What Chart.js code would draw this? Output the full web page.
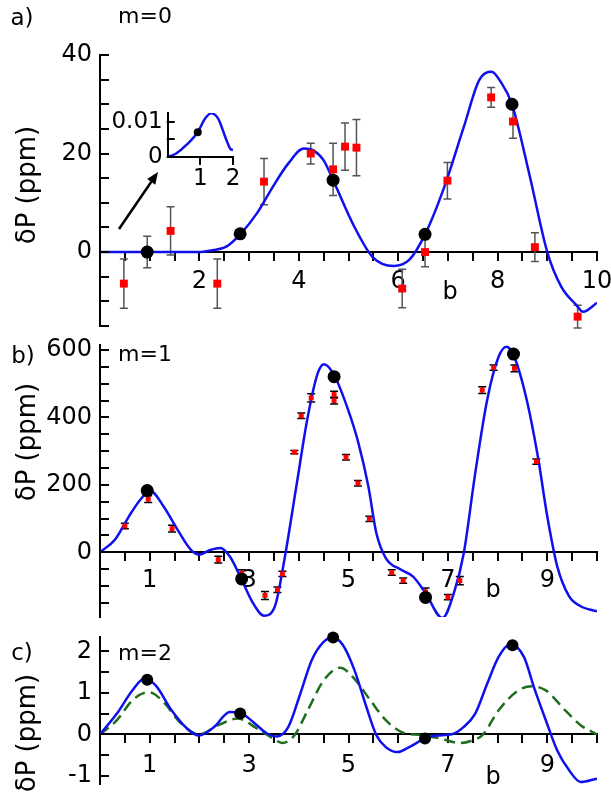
<!DOCTYPE html>
<html>
<head>
<meta charset="utf-8">
<script src="https://cdn.jsdelivr.net/npm/chart.js@4.4.0/dist/chart.umd.min.js"></script>
<style>
html, body { margin: 0; padding: 0; background: #fff; }
#wrap { position: relative; width: 611px; height: 792px; overflow: hidden; font-family: "DejaVu Sans", sans-serif; color: #000; }
canvas { position: absolute; left: 0; top: 0; }
.lbl { position: absolute; white-space: nowrap; line-height: 1; transform: translate(-50%, -50%); }
.ylab { position: absolute; white-space: nowrap; line-height: 1; font-size: 26px; transform: translate(-50%, -50%) rotate(-90deg); }
</style>
</head>
<body>
<div id="wrap">
  <canvas id="chartA" width="611" height="792"></canvas>
  <canvas id="chartInset" width="611" height="792"></canvas>
  <canvas id="chartB" width="611" height="792"></canvas>
  <canvas id="chartC" width="611" height="792"></canvas>

  <div class="lbl" style="left:22px;top:17px;font-size:23px">a)</div>
  <div class="lbl" style="left:145px;top:16px;font-size:22px">m=0</div>
  <div class="ylab" style="left:26px;top:185px">δP (ppm)</div>
  <div class="lbl" style="left:450px;top:291px;font-size:24px">b</div>

  <div class="lbl" style="left:23px;top:355px;font-size:23px">b)</div>
  <div class="lbl" style="left:145px;top:354px;font-size:22px">m=1</div>
  <div class="ylab" style="left:26px;top:442px">δP (ppm)</div>
  <div class="lbl" style="left:493px;top:589px;font-size:24px">b</div>

  <div class="lbl" style="left:22px;top:652px;font-size:23px">c)</div>
  <div class="lbl" style="left:145px;top:653px;font-size:22px">m=2</div>
  <div class="ylab" style="left:26px;top:733px">δP (ppm)</div>
  <div class="lbl" style="left:493px;top:776px;font-size:24px">b</div>

  <svg style="position:absolute;left:0;top:0" width="611" height="792">
    <line x1="119" y1="229" x2="151.5" y2="181.5" stroke="#000" stroke-width="2.5"/>
    <polygon points="158,172 155.3,184.7 147.1,179.1" fill="#000"/>
  </svg>
</div>

<script>
// ---- panel a) m=0 ----
const aCurveB = [0, 0.5, 1, 1.5, 2.0, 2.22, 2.54, 2.82, 3.16, 3.48, 3.79, 4.10, 4.30, 4.50, 4.69, 5.12, 5.48, 5.91, 6.22, 6.54, 6.93, 7.32, 7.63, 7.88, 8.06, 8.29, 8.65, 9.0, 9.28, 9.59, 9.72, 10.0];
const aCurveP = [0, 0, 0, 0, 0, 0.3, 1.1, 3.6, 7.9, 13.3, 18.0, 21.0, 20.6, 18.6, 14.6, 5.1, -0.95, -2.8, -1.6, 3.6, 13.3, 25.4, 34.9, 36.6, 34.6, 30.0, 15.3, 0, -7.0, -10.8, -12.1, -10.3];
const aDotB = [0.95, 2.82, 4.69, 6.54, 8.29];
const aDotP = [0, 3.7, 14.6, 3.6, 30.0];
const aRedB = [0.48, 0.95, 1.42, 2.36, 3.30, 4.24, 4.69, 4.93, 5.16, 6.08, 6.54, 6.99, 7.87, 8.31, 8.75, 9.61];
const aRedP = [-6.4, 0, 4.3, -6.4, 14.3, 20.0, 16.8, 21.4, 21.2, -7.4, 0, 14.5, 31.4, 26.5, 1.0, -13.1];
const aRedErr = [5, 3.2, 4.9, 5, 4.7, 2.1, 5.3, 4.8, 5.7, 3.9, 3, 3.7, 2, 3.4, 2.9, 2.3];
const aXTicks = [0.5, 1, 1.5, 2, 2.5, 3, 3.5, 4, 4.5, 5, 5.5, 6, 6.5, 7, 7.5, 8, 8.5, 9, 9.5, 10];
const aXLabels = [2, 4, 6, 8, 10];
const aYTicks = [-15, -10, -5, 0, 5, 10, 15, 20, 25, 30, 35, 40];
const aYLabels = [0, 20, 40];

// inset of panel a
const insetB = [0, 0.12, 0.27, 0.58, 0.92, 1.14, 1.33, 1.55, 1.76, 1.91, 2.0];
const insetP = [0, 0.0003, 0.001, 0.0035, 0.0071, 0.011, 0.0126, 0.011, 0.0058, 0.0024, 0.0019];
const insetDotB = [0.92];
const insetDotP = [0.0071];
const insetXTicks = [1, 2];
const insetYTicks = [0, 0.005, 0.01];
const insetYLabels = [0, 0.01];

// ---- panel b) m=1 ----
const bCurveB = [0, 0.30, 0.58, 0.81, 1.01, 1.28, 1.56, 1.83, 1.99, 2.22, 2.42, 2.61, 2.85, 3.08, 3.30, 3.52, 3.71, 3.95, 4.18, 4.38, 4.51, 4.71, 4.97, 5.20, 5.40, 5.56, 5.75, 6.06, 6.30, 6.55, 6.89, 7.12, 7.32, 7.55, 7.79, 8.02, 8.18, 8.32, 8.57, 8.81, 9.0, 9.2, 9.44, 9.67, 10];
const bCurveP = [0, 37, 106, 156, 182, 136, 67, 7, -7, 7, 13, -12, -81, -151, -188, -160, -22, 195, 402, 531, 558, 526, 432, 324, 195, 57, -17, -52, -72, -121, -195, -121, -2, 235, 452, 580, 610, 585, 462, 284, 106, -42, -131, -160, -175];
const bDotB = [0.95, 2.85, 4.71, 6.55, 8.32];
const bDotP = [183, -79, 521, -134, 588];
const bRedB = [0.50, 0.97, 1.45, 2.38, 2.85, 3.32, 3.57, 3.67, 3.91, 4.05, 4.25, 4.71, 4.71, 4.95, 5.19, 5.42, 5.87, 6.10, 6.55, 7.00, 7.24, 7.69, 7.92, 8.34, 8.78];
const bRedP = [78, 158, 70, -22, -62, -128, -111, -64, 297, 405, 458, 468, 450, 282, 205, 99, -60, -84, -118, -133, -84, 481, 548, 546, 269];
const bRedErr = [8, 10, 10, 10, 10, 12, 8, 8, 5, 8, 12, 10, 10, 8, 8, 8, 8, 8, 12, 8, 12, 10, 8, 10, 8];
const oddXLabels = [1, 3, 5, 7, 9];
const bYTicks = [-150, -100, -50, 0, 50, 100, 150, 200, 250, 300, 350, 400, 450, 500, 550, 600];
const bYLabels = [0, 200, 400, 600];

// ---- panel c) m=2 ----
const cBlueB = [0, 0.34, 0.65, 0.89, 1.12, 1.44, 1.75, 1.99, 2.30, 2.61, 2.82, 3.08, 3.36, 3.56, 3.79, 4.03, 4.26, 4.50, 4.69, 4.89, 5.12, 5.36, 5.56, 5.75, 5.99, 6.22, 6.54, 6.77, 7.08, 7.32, 7.55, 7.79, 8.02, 8.25, 8.53, 8.73, 8.97, 9.20, 9.44, 9.67, 10];
const cBlueP = [0, 0.50, 1.06, 1.34, 1.18, 0.58, 0.14, -0.03, 0.18, 0.54, 0.52, 0.30, 0.02, -0.05, 0.18, 0.98, 1.79, 2.23, 2.34, 2.15, 1.55, 0.66, -0.02, -0.31, -0.43, -0.31, -0.10, -0.03, 0, 0.18, 0.50, 1.22, 1.87, 2.17, 1.87, 1.14, 0.34, -0.39, -0.87, -1.15, -1.07];
const cGreenB = [0, 0.34, 0.65, 0.98, 1.28, 1.60, 1.99, 2.38, 2.77, 3.16, 3.48, 3.67, 3.91, 4.18, 4.50, 4.83, 5.12, 5.44, 5.75, 6.06, 6.47, 6.85, 7.24, 7.51, 7.71, 8.02, 8.42, 8.69, 8.97, 9.36, 9.67, 10];
const cGreenP = [0, 0.34, 0.82, 1.02, 0.78, 0.30, 0, 0.22, 0.38, 0.14, -0.10, -0.21, -0.03, 0.58, 1.30, 1.61, 1.34, 0.82, 0.34, 0.06, -0.02, -0.10, -0.21, -0.14, 0, 0.58, 1.06, 1.16, 1.06, 0.58, 0.22, 0];
const cDotB = [0.95, 2.82, 4.69, 6.54, 8.30];
const cDotP = [1.32, 0.50, 2.34, -0.10, 2.15];
const cYTicks = [-1, -0.5, 0, 0.5, 1, 1.5, 2];
const cYLabels = [-1, 0, 1, 2];

const BLUE = '#1010ee';
const GREEN = '#1f6e1f';
const FONT = 'DejaVu Sans';
Chart.defaults.font.family = FONT;
Chart.defaults.color = '#000';

function xy(xs, ys) {
    return xs.map((x, i) => ({ x: x, y: ys[i] }));
}

// error bars drawn under the points
const errorBars = {
    id: 'errorBars',
    beforeDatasetsDraw(chart, args, opts) {
        const ctx = chart.ctx, xs = chart.scales.x, ys = chart.scales.y;
        ctx.save();
        ctx.strokeStyle = opts.color;
        ctx.lineWidth = opts.width;
        chart.data.datasets.forEach(ds => {
            if (!ds.errors) return;
            ds.data.forEach((p, i) => {
                const px = xs.getPixelForValue(p.x);
                const top = ys.getPixelForValue(p.y + ds.errors[i]);
                const bot = ys.getPixelForValue(p.y - ds.errors[i]);
                ctx.beginPath();
                ctx.moveTo(px, top); ctx.lineTo(px, bot);
                ctx.moveTo(px - opts.cap, top); ctx.lineTo(px + opts.cap, top);
                ctx.moveTo(px - opts.cap, bot); ctx.lineTo(px + opts.cap, bot);
                ctx.stroke();
            });
        });
        ctx.restore();
    }
};

// y tick marks pointing into the plot
const innerTicks = {
    id: 'innerTicks',
    afterDraw(chart, args, opts) {
        const ctx = chart.ctx, ys = chart.scales.y;
        ctx.save();
        ctx.strokeStyle = '#000';
        ctx.lineWidth = 2;
        ys.ticks.forEach(t => {
            const py = Math.round(ys.getPixelForValue(t.value));
            ctx.beginPath();
            ctx.moveTo(ys.right - 1, py);
            ctx.lineTo(ys.right + opts.len, py);
            ctx.stroke();
        });
        ctx.restore();
    }
};

function makeChart(id, o) {
    return new Chart(document.getElementById(id), {
        type: 'line',
        data: { datasets: o.datasets },
        plugins: [errorBars, innerTicks],
        options: {
            responsive: false,
            animation: false,
            layout: { padding: { left: 0, top: o.top, right: 611 - o.right, bottom: 792 - o.bottom } },
            plugins: {
                legend: { display: false },
                tooltip: { enabled: false },
                errorBars: o.err || { color: '#000', width: 1.5, cap: 4 },
                innerTicks: { len: o.yTickLen }
            },
            scales: {
                x: {
                    type: 'linear', min: o.xMin, max: o.xMax,
                    position: { y: 0 },
                    afterBuildTicks: s => { s.ticks = o.xTicks.map(v => ({ value: v })); },
                    afterFit: s => { s.paddingLeft = 0; s.paddingRight = 0; },
                    ticks: {
                        autoSkip: false, maxRotation: 0, padding: o.xPad,
                        font: { size: o.fontSize },
                        callback: v => o.xLabels.includes(v) ? String(v) : ''
                    },
                    grid: { drawOnChartArea: false, color: '#000', lineWidth: 2, tickLength: o.xTickLen },
                    border: { color: '#000', width: 2 }
                },
                y: {
                    type: 'linear', min: o.yMin, max: o.yMax,
                    afterBuildTicks: s => { s.ticks = o.yTicks.map(v => ({ value: v })); },
                    afterFit: s => { s.width = o.left; s.paddingTop = 0; s.paddingBottom = 0; },
                    ticks: {
                        autoSkip: false,
                        padding: o.yPad,
                        font: { size: o.fontSize },
                        callback: v => o.yLabels.includes(v) ? String(v) : ''
                    },
                    grid: { drawOnChartArea: false, drawTicks: false },
                    border: { color: '#000', width: 2 }
                }
            }
        }
    });
}

function dots(xs, ys, r) {
    return { data: xy(xs, ys), showLine: false, clip: false, pointRadius: r, pointBackgroundColor: '#000', pointBorderWidth: 0 };
}
function squares(xs, ys, errs, r) {
    return { data: xy(xs, ys), errors: errs, showLine: false, clip: false, pointStyle: 'rect', pointRadius: r, pointBackgroundColor: '#ff0000', pointBorderWidth: 0 };
}
function curve(xs, ys, color, dash) {
    return { data: xy(xs, ys), borderColor: color, borderWidth: 2.5, borderDash: dash || [], pointRadius: 0, cubicInterpolationMode: 'monotone', fill: false };
}

const chartA = makeChart('chartA', {
    left: 100, right: 597, top: 55, bottom: 326,
    xMin: 0, xMax: 10, yMin: -15, yMax: 40,
    xTicks: aXTicks, xLabels: aXLabels, yTicks: aYTicks, yLabels: aYLabels,
    xPad: 7, yPad: 8, xTickLen: 8, yTickLen: 9, fontSize: 24,
    err: { color: '#555', width: 1.5, cap: 4 },
    datasets: [
        dots(aDotB, aDotP, 6.5),
        squares(aRedB, aRedP, aRedErr, 5.6),
        curve(aCurveB, aCurveP, BLUE)
    ]
});

const chartInset = makeChart('chartInset', {
    left: 167.7, right: 233, top: 113, bottom: 156.7,
    xMin: 0, xMax: 2, yMin: 0, yMax: 0.0127,
    xTicks: insetXTicks, xLabels: insetXTicks, yTicks: insetYTicks, yLabels: insetYLabels,
    xPad: 2, yPad: 5, xTickLen: 7, yTickLen: 7, fontSize: 23,
    datasets: [
        dots(insetDotB, insetDotP, 4),
        curve(insetB, insetP, BLUE)
    ]
});

const chartB = makeChart('chartB', {
    left: 100, right: 597, top: 345, bottom: 617,
    xMin: 0, xMax: 10, yMin: -192, yMax: 615,
    xTicks: aXTicks, xLabels: oddXLabels, yTicks: bYTicks, yLabels: bYLabels,
    xPad: 6, yPad: 8, xTickLen: 8, yTickLen: 9, fontSize: 24,
    err: { color: '#000', width: 1.5, cap: 4 },
    datasets: [
        dots(bDotB, bDotP, 6.5),
        squares(bRedB, bRedP, bRedErr, 3.5),
        curve(bCurveB, bCurveP, BLUE)
    ]
});

const chartC = makeChart('chartC', {
    left: 100, right: 597, top: 637, bottom: 784,
    xMin: 0, xMax: 10, yMin: -1.2, yMax: 2.35,
    xTicks: aXTicks, xLabels: oddXLabels, yTicks: cYTicks, yLabels: cYLabels,
    xPad: 9, yPad: 8, xTickLen: 8, yTickLen: 9, fontSize: 24,
    datasets: [
        dots(cDotB, cDotP, 6),
        curve(cBlueB, cBlueP, BLUE),
        curve(cGreenB, cGreenP, GREEN, [11, 6])
    ]
});
</script>
</body>
</html>
